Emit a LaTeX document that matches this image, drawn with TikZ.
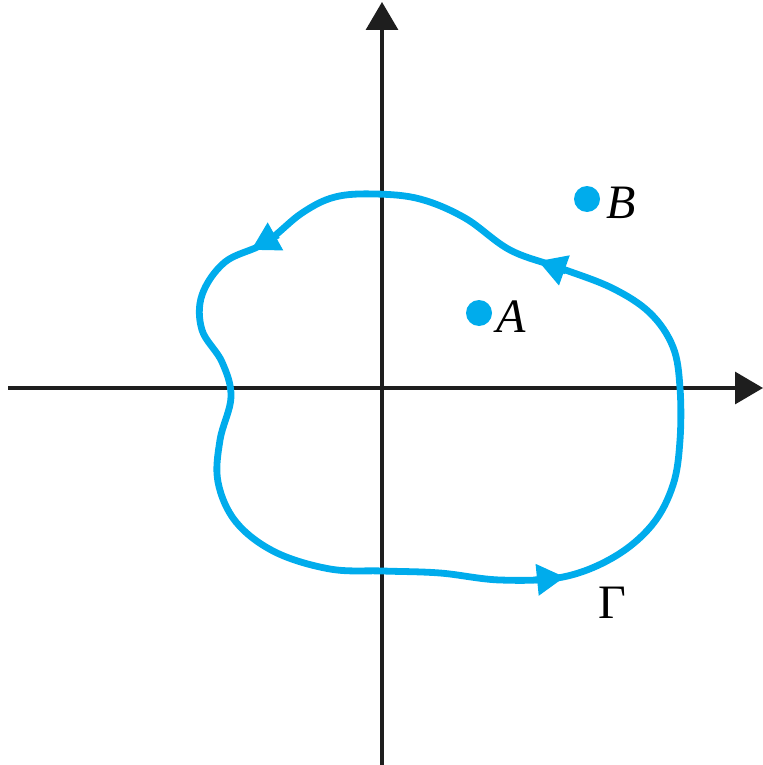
\documentclass[tikz,border=0pt]{standalone}
\usepackage{fontspec}
\setmainfont{Liberation Serif}
\usetikzlibrary{arrows.meta}
\definecolor{gblue}{RGB}{0,172,236}
\definecolor{axisgray}{RGB}{30,30,30}
\begin{document}
\begin{tikzpicture}[x=0.5pt,y=-0.5pt,
  axis/.style={draw=axisgray,line width=1.6pt,-{Triangle[length=14pt,width=16pt]}},
  contour/.style={draw=gblue,line width=3.4pt},
  curvearrow/.style={draw=gblue,line width=3.4pt,-{Triangle[length=14pt,width=15pt]}},
  dot/.style={circle,fill=gblue,inner sep=0pt,minimum size=13pt},
  lbl/.style={font=\fontsize{24}{27}\selectfont,inner sep=0pt}]
\useasboundingbox (0,0) rectangle (763,765);
\coordinate (xl) at (8,388);
\coordinate (xr) at (763,388);
\coordinate (yb) at (382,765);
\coordinate (yt) at (382,2);
\draw[axis] (xl) -- (xr);
\draw[axis] (yb) -- (yt);
\draw[contour] plot[smooth cycle,tension=0.6] coordinates {
 (680,388) (673,347) (650,313) (612,288) (560,268) (510,250) (465,218) (420,199)
 (375,194) (335,197) (302,213) (265,243) (225,262) (202,295) (202,330) (222,362)
 (231,397) (220,440) (218,482) (236,522) (275,552) (330,569) (383,571) (440,573)
 (500,580) (563,577) (614,557) (652,525) (673,485) (680,440)};
\coordinate (a1s) at (566,271);
\coordinate (a1e) at (538,261);
\draw[curvearrow] (a1s) -- (a1e);
\coordinate (a2s) at (278,235);
\coordinate (a2e) at (251,250);
\draw[curvearrow] (a2s) -- (a2e);
\coordinate (a3s) at (535,580);
\coordinate (a3e) at (565,577);
\draw[curvearrow] (a3s) -- (a3e);
\node[dot] (A) at (479,313) {};
\node[dot] (B) at (587,199) {};
\node[lbl] (Alabel) at (511,317) {\textit{A}};
\node[lbl] (Blabel) at (621,203) {\textit{B}};
\node[lbl] (G) at (612,603) {Γ};
\end{tikzpicture}
\end{document}
